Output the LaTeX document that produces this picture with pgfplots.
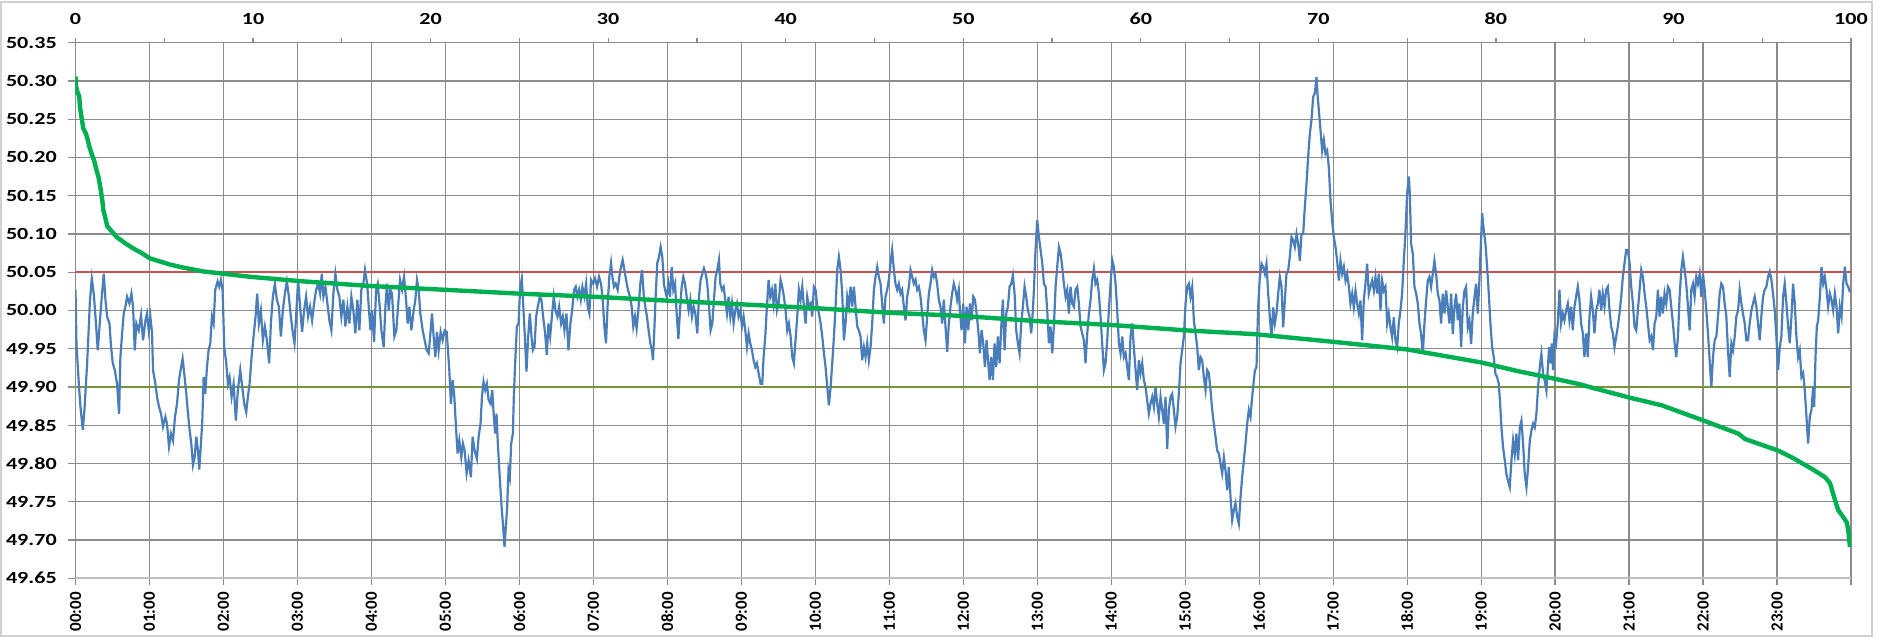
\documentclass[border=0pt]{standalone}
\usepackage{pgfplots}
\pgfplotsset{compat=1.18}
\usepackage{pgfplotstable}
\usepackage{fontspec}
\setmainfont{Carlito}

\definecolor{freqblue}{HTML}{4A7EBB}
\definecolor{durgreen}{HTML}{00B050}
\definecolor{limred}{HTML}{D05050}
\definecolor{limolive}{HTML}{77933C}
\definecolor{gridgray}{HTML}{8C8C8C}
\definecolor{axisgray}{HTML}{BFBFBF}

% frequency over the day, x in hours
\pgfplotstableread{
h f
0.000 50.027
0.013 49.957
0.045 49.904
0.067 49.874
0.099 49.844
0.121 49.870
0.144 49.909
0.157 49.930
0.180 49.979
0.193 50.009
0.220 50.042
0.247 50.022
0.270 49.992
0.301 49.948
0.328 49.983
0.355 50.018
0.382 50.048
0.405 50.014
0.427 49.992
0.459 49.983
0.481 49.952
0.504 49.931
0.531 49.922
0.562 49.904
0.589 49.865
0.607 49.939
0.630 49.970
0.652 49.996
0.675 50.005
0.697 50.018
0.729 50.009
0.756 50.022
0.778 50.005
0.801 49.948
0.823 49.983
0.855 49.974
0.886 49.994
0.913 49.961
0.945 49.987
0.967 49.996
0.990 49.974
1.012 49.992
1.035 49.970
1.048 49.922
1.080 49.904
1.102 49.887
1.129 49.874
1.156 49.865
1.183 49.848
1.215 49.861
1.237 49.852
1.264 49.822
1.291 49.839
1.318 49.830
1.345 49.861
1.372 49.878
1.399 49.909
1.421 49.922
1.448 49.937
1.475 49.913
1.498 49.891
1.516 49.870
1.538 49.848
1.565 49.826
1.588 49.798
1.610 49.808
1.633 49.835
1.655 49.817
1.673 49.792
1.696 49.826
1.714 49.856
1.732 49.913
1.754 49.891
1.777 49.926
1.799 49.948
1.822 49.957
1.844 49.992
1.867 49.983
1.889 50.027
1.921 50.038
1.943 50.031
1.966 50.040
1.988 50.027
2.011 49.952
2.038 49.931
2.060 49.904
2.083 49.913
2.110 49.887
2.137 49.904
2.168 49.856
2.195 49.896
2.227 49.922
2.254 49.900
2.281 49.878
2.308 49.867
2.330 49.887
2.353 49.904
2.380 49.939
2.407 49.966
2.434 49.992
2.456 50.022
2.479 49.983
2.506 50.000
2.533 49.961
2.560 49.979
2.587 49.961
2.618 49.931
2.641 49.983
2.668 50.018
2.695 50.035
2.722 50.014
2.749 50.005
2.776 49.966
2.803 50.000
2.830 50.022
2.857 50.038
2.884 50.018
2.911 49.992
2.933 49.974
2.960 49.957
2.982 49.992
3.009 50.040
3.036 50.005
3.063 49.972
3.090 50.000
3.117 50.018
3.144 49.992
3.171 50.005
3.198 49.987
3.225 50.009
3.252 50.027
3.279 50.035
3.306 50.022
3.329 50.048
3.351 50.018
3.378 50.031
3.405 50.009
3.432 49.987
3.459 49.974
3.486 50.022
3.513 50.048
3.540 50.027
3.567 50.018
3.594 49.992
3.621 50.014
3.648 49.979
3.675 50.005
3.702 49.983
3.729 50.018
3.756 50.000
3.783 49.970
3.810 50.014
3.837 49.974
3.864 50.027
3.891 50.035
3.913 50.053
3.942 50.035
3.964 50.005
3.987 49.974
4.009 50.000
4.036 49.959
4.063 50.027
4.085 50.035
4.112 50.005
4.135 49.974
4.166 49.952
4.189 50.005
4.211 50.035
4.234 50.000
4.256 50.027
4.279 50.022
4.310 49.966
4.337 49.974
4.360 50.005
4.387 50.040
4.414 50.027
4.441 50.044
4.468 50.014
4.490 49.983
4.513 50.005
4.540 49.974
4.571 50.000
4.594 50.014
4.616 50.040
4.639 50.027
4.661 49.996
4.693 49.974
4.720 49.961
4.747 49.948
4.774 49.944
4.801 49.974
4.819 49.996
4.841 49.966
4.864 49.939
4.886 49.972
4.909 49.948
4.936 49.972
4.963 49.961
4.990 49.974
5.017 49.972
5.035 49.948
5.053 49.922
5.075 49.878
5.098 49.909
5.121 49.887
5.143 49.848
5.165 49.813
5.188 49.830
5.215 49.808
5.237 49.826
5.260 49.817
5.287 49.787
5.314 49.804
5.345 49.782
5.368 49.835
5.395 49.817
5.426 49.806
5.449 49.835
5.475 49.852
5.494 49.887
5.516 49.907
5.539 49.896
5.561 49.904
5.584 49.883
5.611 49.878
5.633 49.896
5.655 49.861
5.673 49.839
5.691 49.865
5.709 49.826
5.727 49.795
5.745 49.765
5.763 49.739
5.781 49.717
5.799 49.691
5.817 49.717
5.835 49.743
5.853 49.791
5.871 49.782
5.889 49.826
5.912 49.839
5.925 49.887
5.943 49.931
5.966 49.979
5.989 49.983
6.011 50.031
6.033 50.042
6.051 50.009
6.074 49.966
6.096 49.920
6.119 49.966
6.141 49.996
6.164 49.966
6.182 49.948
6.204 49.952
6.227 49.992
6.249 50.005
6.276 50.018
6.298 50.014
6.321 49.992
6.348 49.970
6.371 49.942
6.393 49.983
6.416 49.966
6.443 49.996
6.465 50.018
6.488 50.000
6.515 49.992
6.537 50.005
6.564 49.983
6.587 49.992
6.609 49.974
6.636 49.996
6.663 49.948
6.690 49.983
6.713 50.000
6.740 50.027
6.762 50.031
6.785 50.018
6.807 50.027
6.830 50.014
6.852 50.031
6.879 50.018
6.902 50.035
6.924 50.005
6.946 49.996
6.969 50.040
6.996 50.035
7.023 50.042
7.050 50.031
7.077 50.044
7.104 50.035
7.126 50.014
7.149 49.979
7.171 49.957
7.194 50.009
7.216 50.044
7.239 50.062
7.257 50.044
7.279 50.031
7.302 50.035
7.329 50.027
7.351 50.044
7.374 50.057
7.396 50.066
7.419 50.053
7.442 50.040
7.468 50.027
7.495 50.018
7.518 50.005
7.540 49.979
7.563 49.992
7.585 49.976
7.608 50.000
7.635 50.035
7.658 50.053
7.680 50.022
7.702 50.005
7.725 49.992
7.747 49.974
7.770 49.957
7.792 49.948
7.806 49.935
7.824 49.974
7.842 50.018
7.864 50.062
7.887 50.070
7.909 50.083
7.932 50.070
7.954 50.035
7.968 50.027
7.991 50.018
8.014 50.035
8.036 50.018
8.059 50.057
8.081 50.027
8.104 50.035
8.126 49.996
8.149 49.963
8.171 50.000
8.194 50.031
8.216 50.044
8.239 50.035
8.261 50.018
8.288 50.000
8.311 50.014
8.333 49.992
8.356 50.005
8.378 49.996
8.405 49.970
8.428 50.018
8.450 50.040
8.473 50.048
8.495 50.055
8.518 50.048
8.540 50.035
8.567 50.000
8.585 49.974
8.608 49.983
8.630 50.014
8.653 50.044
8.675 50.053
8.698 50.066
8.716 50.035
8.738 50.027
8.761 50.031
8.783 50.014
8.806 49.996
8.828 50.018
8.851 49.992
8.873 50.009
8.896 49.983
8.918 50.000
8.941 50.009
8.963 49.992
8.986 50.000
9.009 49.979
9.031 49.992
9.054 49.974
9.076 49.952
9.099 49.970
9.121 49.957
9.144 49.948
9.166 49.935
9.189 49.926
9.211 49.931
9.234 49.918
9.261 49.904
9.283 49.904
9.301 49.939
9.324 49.966
9.346 50.005
9.369 50.040
9.391 50.018
9.414 50.027
9.436 50.009
9.459 50.035
9.481 50.000
9.504 50.009
9.531 50.040
9.553 50.031
9.576 50.018
9.598 50.000
9.621 49.974
9.643 49.983
9.666 49.966
9.689 49.939
9.711 49.931
9.733 49.961
9.756 49.992
9.778 50.027
9.801 50.014
9.824 50.031
9.846 50.005
9.869 49.983
9.891 50.018
9.914 50.005
9.937 50.009
9.959 49.992
9.981 50.031
10.004 50.027
10.027 50.005
10.049 49.996
10.072 49.983
10.094 49.966
10.117 49.944
10.139 49.926
10.162 49.900
10.184 49.876
10.207 49.900
10.229 49.931
10.252 49.966
10.274 50.005
10.297 50.053
10.319 50.070
10.342 50.053
10.364 50.022
10.387 49.961
10.409 49.983
10.432 50.018
10.454 50.005
10.477 50.031
10.499 50.005
10.522 50.031
10.544 50.005
10.567 49.979
10.589 49.974
10.612 49.966
10.634 49.935
10.657 49.952
10.679 49.939
10.702 49.957
10.724 49.935
10.747 49.952
10.769 49.983
10.792 50.027
10.814 50.044
10.837 50.057
10.859 50.044
10.882 50.035
10.904 50.009
10.927 49.983
10.949 50.018
10.972 50.027
10.994 50.040
11.017 50.062
11.039 50.079
11.062 50.053
11.084 50.035
11.107 50.027
11.129 50.035
11.152 50.022
11.174 50.027
11.197 50.005
11.220 49.987
11.242 50.018
11.265 50.031
11.287 50.053
11.310 50.044
11.332 50.035
11.355 50.040
11.377 50.027
11.400 50.031
11.422 50.018
11.445 49.996
11.467 49.974
11.490 49.961
11.512 49.992
11.535 50.022
11.557 50.035
11.580 50.053
11.602 50.044
11.625 50.048
11.647 50.035
11.670 50.014
11.692 50.005
11.715 49.983
11.737 50.014
11.760 49.979
11.783 49.946
11.805 49.983
11.827 50.005
11.850 50.022
11.872 50.035
11.895 50.027
11.917 50.014
11.940 50.027
11.955 50.000
11.977 49.974
12.000 50.009
12.023 49.957
12.045 50.005
12.068 49.974
12.090 50.009
12.113 49.987
12.135 50.018
12.158 50.014
12.180 49.996
12.203 49.974
12.225 49.944
12.248 49.974
12.270 49.957
12.293 49.926
12.315 49.961
12.338 49.931
12.356 49.909
12.378 49.939
12.401 49.909
12.423 49.957
12.446 49.926
12.468 49.966
12.491 49.931
12.514 49.979
12.536 50.014
12.559 49.948
12.581 49.996
12.604 50.005
12.626 50.031
12.649 50.035
12.671 50.046
12.694 50.022
12.716 49.974
12.739 49.957
12.761 49.944
12.784 49.983
12.806 50.005
12.829 50.031
12.851 50.018
12.874 50.000
12.896 49.992
12.919 49.970
12.941 50.000
12.959 50.035
12.977 50.079
13.000 50.118
13.023 50.096
13.045 50.079
13.068 50.062
13.090 50.035
13.113 50.031
13.135 50.000
13.158 49.957
13.180 49.979
13.203 49.944
13.225 49.979
13.248 50.031
13.270 50.057
13.293 50.083
13.315 50.075
13.338 50.057
13.360 50.035
13.383 50.018
13.405 50.027
13.428 49.996
13.450 50.031
13.473 50.009
13.495 50.005
13.518 50.027
13.541 50.031
13.563 50.009
13.586 49.979
13.608 49.970
13.631 49.961
13.653 49.931
13.676 49.970
13.698 49.996
13.721 50.014
13.743 50.040
13.766 50.055
13.788 50.035
13.811 50.040
13.833 50.022
13.856 49.992
13.878 49.957
13.901 49.922
13.923 49.931
13.946 49.961
13.968 50.000
13.991 50.035
14.014 50.066
14.036 50.057
14.059 50.035
14.081 50.000
14.104 49.957
14.126 49.944
14.149 49.966
14.171 49.939
14.194 49.944
14.216 49.926
14.239 49.909
14.261 49.966
14.284 49.983
14.306 49.952
14.329 49.922
14.351 49.896
14.374 49.935
14.396 49.918
14.419 49.931
14.441 49.909
14.464 49.900
14.486 49.883
14.509 49.865
14.531 49.878
14.554 49.887
14.577 49.874
14.599 49.900
14.622 49.878
14.644 49.861
14.667 49.887
14.689 49.870
14.712 49.852
14.734 49.887
14.757 49.819
14.779 49.870
14.802 49.887
14.824 49.891
14.847 49.870
14.869 49.848
14.892 49.861
14.914 49.891
14.937 49.931
14.959 49.948
14.982 49.966
15.005 50.009
15.027 50.031
15.050 50.035
15.072 50.018
15.095 50.031
15.117 49.987
15.140 49.970
15.162 49.952
15.185 49.922
15.207 49.939
15.230 49.935
15.252 49.913
15.275 49.896
15.297 49.922
15.320 49.918
15.342 49.896
15.365 49.870
15.387 49.852
15.410 49.835
15.432 49.817
15.455 49.813
15.477 49.800
15.500 49.787
15.523 49.808
15.545 49.791
15.568 49.765
15.590 49.795
15.613 49.756
15.635 49.726
15.658 49.739
15.680 49.748
15.703 49.730
15.725 49.721
15.748 49.756
15.770 49.782
15.793 49.804
15.815 49.826
15.838 49.852
15.860 49.870
15.883 49.861
15.905 49.887
15.941 49.921
15.964 49.926
15.986 50.004
16.009 50.044
16.032 50.061
16.054 50.057
16.077 50.048
16.099 50.061
16.122 50.022
16.144 49.991
16.167 49.965
16.189 50.004
16.212 49.983
16.234 49.996
16.257 50.022
16.279 50.044
16.302 50.031
16.324 49.978
16.347 50.013
16.369 50.048
16.392 50.052
16.414 50.070
16.437 50.096
16.459 50.092
16.482 50.083
16.505 50.100
16.527 50.087
16.550 50.065
16.572 50.100
16.595 50.100
16.617 50.135
16.640 50.166
16.662 50.201
16.685 50.231
16.707 50.249
16.730 50.279
16.752 50.284
16.775 50.305
16.788 50.284
16.806 50.262
16.829 50.236
16.851 50.209
16.874 50.223
16.896 50.205
16.919 50.209
16.941 50.188
16.964 50.144
16.986 50.118
17.009 50.096
17.032 50.083
17.054 50.065
17.077 50.039
17.099 50.065
17.122 50.048
17.144 50.057
17.167 50.039
17.189 50.048
17.212 50.031
17.234 50.009
17.257 50.022
17.279 50.004
17.302 50.026
17.324 50.009
17.347 49.996
17.369 50.013
17.392 49.961
17.414 50.013
17.437 50.035
17.459 50.061
17.482 50.022
17.504 50.031
17.527 50.039
17.550 50.026
17.572 50.044
17.595 50.022
17.617 50.048
17.640 50.000
17.662 50.039
17.685 50.026
17.707 50.031
17.730 49.983
17.752 49.996
17.775 49.978
17.797 49.965
17.820 49.991
17.842 49.961
17.865 49.952
17.887 49.983
17.910 50.000
17.932 50.022
17.955 50.065
17.977 50.100
18.000 50.153
18.023 50.175
18.036 50.153
18.054 50.087
18.077 50.074
18.099 50.031
18.122 50.022
18.144 50.009
18.167 49.983
18.189 49.969
18.212 49.943
18.234 49.983
18.257 50.013
18.279 50.039
18.302 50.044
18.324 50.031
18.347 50.048
18.369 50.065
18.392 50.048
18.414 50.022
18.437 50.013
18.459 49.983
18.482 50.022
18.505 49.996
18.527 50.026
18.550 50.004
18.572 49.983
18.595 50.022
18.617 49.969
18.640 50.004
18.662 50.022
18.685 49.987
18.707 50.009
18.730 49.952
18.752 50.004
18.775 50.026
18.797 50.031
18.820 49.978
18.842 49.987
18.865 49.956
18.887 49.996
18.910 50.017
18.932 50.035
18.955 49.996
18.977 50.039
18.995 50.083
19.014 50.127
19.036 50.105
19.059 50.087
19.081 50.057
19.104 50.022
19.126 49.983
19.149 49.952
19.171 49.939
19.194 49.917
19.216 49.913
19.239 49.904
19.257 49.878
19.275 49.847
19.297 49.821
19.320 49.804
19.342 49.786
19.365 49.777
19.387 49.769
19.410 49.804
19.432 49.830
19.455 49.812
19.477 49.839
19.500 49.804
19.523 49.847
19.545 49.856
19.568 49.825
19.590 49.786
19.613 49.769
19.635 49.795
19.658 49.830
19.680 49.843
19.703 49.852
19.725 49.847
19.748 49.865
19.770 49.900
19.793 49.926
19.815 49.943
19.838 49.917
19.860 49.908
19.883 49.895
19.919 49.952
19.937 49.931
19.955 49.957
19.973 49.922
19.991 49.966
20.014 49.957
20.036 49.983
20.059 50.027
20.081 49.983
20.104 49.996
20.126 49.987
20.149 50.000
20.172 50.009
20.194 49.987
20.217 50.005
20.239 49.974
20.262 50.005
20.284 50.018
20.307 50.031
20.329 50.014
20.352 49.983
20.375 49.970
20.397 49.939
20.420 49.970
20.442 49.939
20.465 49.992
20.487 50.018
20.510 50.000
20.532 49.970
20.555 50.000
20.578 50.009
20.600 50.027
20.623 50.000
20.645 50.022
20.668 50.005
20.690 50.027
20.713 50.031
20.736 50.000
20.758 49.979
20.781 49.970
20.803 49.952
20.826 49.966
20.848 49.979
20.871 49.996
20.894 50.018
20.916 50.044
20.939 50.062
20.961 50.079
20.984 50.079
21.007 50.062
21.029 50.031
21.052 50.009
21.074 49.979
21.097 49.974
21.119 50.000
21.142 50.027
21.165 50.053
21.187 50.044
21.210 50.022
21.232 50.005
21.255 49.983
21.278 49.961
21.300 49.966
21.323 49.948
21.345 49.983
21.368 49.992
21.390 50.027
21.413 49.992
21.435 50.018
21.458 49.996
21.480 50.022
21.503 50.009
21.525 50.031
21.548 50.027
21.570 50.005
21.593 49.983
21.616 49.957
21.638 49.939
21.661 49.966
21.683 50.018
21.706 50.053
21.728 50.070
21.751 50.053
21.773 50.035
21.796 50.005
21.819 49.974
21.841 50.027
21.864 50.035
21.886 50.018
21.909 50.044
21.931 50.035
21.954 50.048
21.977 50.018
21.999 50.048
22.022 50.027
22.044 50.000
22.067 49.970
22.089 49.935
22.112 49.900
22.134 49.939
22.157 49.961
22.180 49.966
22.202 49.992
22.225 50.022
22.247 50.035
22.270 50.031
22.292 50.009
22.315 49.992
22.337 49.948
22.360 49.913
22.383 49.957
22.405 49.948
22.428 49.966
22.450 49.992
22.473 50.000
22.495 50.027
22.518 50.009
22.540 49.996
22.563 49.983
22.585 49.961
22.608 49.961
22.630 49.983
22.653 50.000
22.675 50.009
22.698 50.018
22.721 50.005
22.743 49.983
22.766 49.961
22.788 49.992
22.811 50.018
22.833 50.027
22.856 50.031
22.879 50.044
22.901 50.051
22.924 50.040
22.946 50.022
22.969 50.000
22.991 49.966
23.014 49.922
23.037 49.952
23.059 49.966
23.082 50.018
23.104 50.035
23.127 50.009
23.150 49.979
23.172 49.957
23.195 49.992
23.217 50.035
23.240 50.009
23.262 49.966
23.285 49.939
23.307 49.948
23.330 49.913
23.353 49.918
23.375 49.896
23.398 49.861
23.420 49.826
23.443 49.861
23.466 49.870
23.488 49.900
23.502 49.874
23.520 49.939
23.538 49.979
23.556 49.987
23.579 50.018
23.601 50.057
23.624 50.035
23.646 50.044
23.669 50.027
23.691 50.005
23.714 50.022
23.736 50.014
23.759 50.000
23.782 50.022
23.804 50.005
23.827 49.970
23.849 50.005
23.872 49.992
23.894 50.035
23.917 50.057
23.939 50.035
23.962 50.031
23.984 50.024
}\freq

% duration curve, x in percent of the day
\pgfplotstableread{
p f
0.00 50.306
0.02 50.294
0.10 50.286
0.21 50.280
0.25 50.266
0.35 50.251
0.44 50.238
0.59 50.231
0.69 50.223
0.78 50.214
0.91 50.205
1.06 50.195
1.19 50.183
1.29 50.175
1.42 50.158
1.51 50.144
1.57 50.131
1.66 50.123
1.79 50.110
1.98 50.105
2.32 50.096
2.79 50.088
3.26 50.081
3.73 50.075
4.20 50.068
4.76 50.064
5.32 50.060
6.07 50.056
7.20 50.051
8.32 50.048
9.83 50.044
11.33 50.041
12.83 50.038
14.71 50.035
16.59 50.032
20.81 50.027
24.98 50.022
29.16 50.018
33.20 50.013
37.50 50.008
41.67 50.003
45.83 49.997
49.82 49.993
54.17 49.986
58.34 49.981
62.51 49.974
66.43 49.969
70.84 49.959
75.01 49.949
79.18 49.932
81.17 49.921
83.05 49.912
84.64 49.904
85.58 49.898
87.54 49.886
89.34 49.876
91.70 49.856
93.65 49.839
94.03 49.832
95.87 49.817
96.66 49.808
97.79 49.793
98.54 49.782
98.82 49.774
99.10 49.752
99.28 49.739
99.56 49.730
99.76 49.723
99.85 49.712
99.94 49.691
}\duration

\begin{document}
\begin{tikzpicture}
\useasboundingbox (0,0) rectangle (942.5pt,318.5pt);
\draw[black!18, line width=0.8pt] (0.5pt,0.5pt) rectangle (936pt,317.5pt);

\pgfplotsset{
  every axis/.append style={
    at={(37.75pt,29.4pt)}, anchor=south west,
    scale only axis, width=887.75pt, height=267.75pt,
    ymin=49.65, ymax=50.35,
    tick align=outside,
    tick style={gridgray, line width=0.6pt},
    tick label style={font=\bfseries\fontsize{8.5}{10}\selectfont, text=black},
  },
}

\begin{axis}[
  xmin=0, xmax=24,
  axis x line*=bottom, axis y line*=left,
  x axis line style={axisgray, line width=1.1pt, -},
  y axis line style={gridgray, line width=0.6pt, -},
  grid=major,
  major grid style={gridgray, line width=0.6pt},
  major tick length=3.5pt,
  xtick={0,1,...,24},
  xticklabels={00:00,01:00,02:00,03:00,04:00,05:00,06:00,07:00,08:00,09:00,10:00,11:00,12:00,13:00,14:00,15:00,16:00,17:00,18:00,19:00,20:00,21:00,22:00,23:00,{}},
  xticklabel style={rotate=90, anchor=east},
  ytick={49.65,49.70,49.75,49.80,49.85,49.90,49.95,50.00,50.05,50.10,50.15,50.20,50.25,50.30,50.35},
  yticklabels={49.65,49.70,49.75,49.80,49.85,49.90,49.95,50.00,50.05,50.10,50.15,50.20,50.25,50.30,50.35},
  yticklabel style={anchor=east, xscale=1.3, xshift=-1pt},
]
\addplot[limred, line width=1pt] coordinates {(0,50.05) (24,50.05)};
\addplot[limolive, line width=1pt] coordinates {(0,49.90) (24,49.90)};
\addplot[freqblue, line width=1.1pt] table[x=h, y=f] {\freq};
\end{axis}

\begin{axis}[
  xmin=0, xmax=100,
  axis x line*=top, axis y line=none,
  x axis line style={gridgray, line width=0.6pt, -},
  major tick length=2.5pt, minor tick length=2.5pt,
  xtick={0,10,...,100},
  minor xtick={5,15,...,95},
  xticklabels={0,10,20,30,40,50,60,70,80,90,100},
  xticklabel style={yshift=3pt, xscale=1.3},
]
\addplot[durgreen, line width=2.2pt] table[x=p, y=f] {\duration};
\end{axis}
\end{tikzpicture}
\end{document}
